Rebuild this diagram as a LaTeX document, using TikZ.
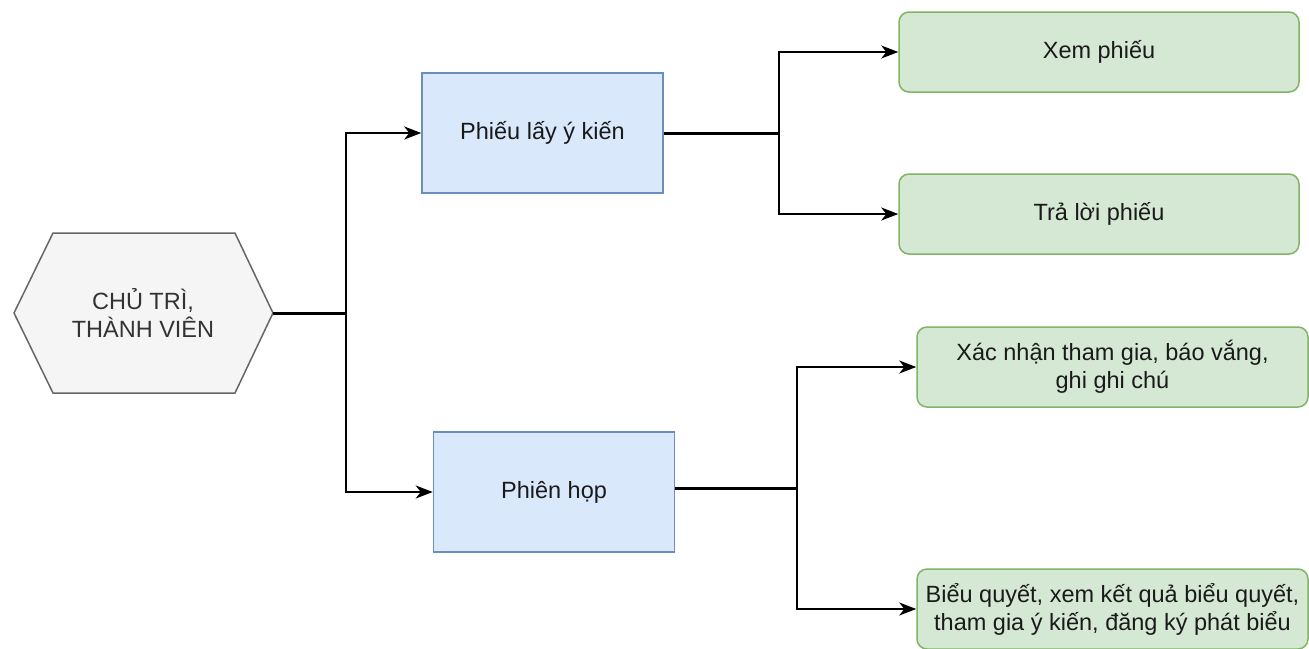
\documentclass[tikz,border=0pt]{standalone}
\usepackage{fontspec}
\setmainfont{Liberation Sans}
\usetikzlibrary{arrows.meta}
\definecolor{gfill}{HTML}{D5E8D4}
\definecolor{gline}{HTML}{82B366}
\definecolor{bfill}{HTML}{DAE8FC}
\definecolor{bline}{HTML}{6C8EBF}
\definecolor{hfill}{HTML}{F5F5F5}
\definecolor{hline}{HTML}{666666}
\definecolor{htext}{HTML}{333333}
\definecolor{ink}{HTML}{1A1A1A}
\begin{document}
\begin{tikzpicture}[x=1pt,y=-1pt,
  every node/.style={font=\fontsize{23.5}{28}\selectfont, text=ink, align=center, inner sep=0pt},
  bluebox/.style={draw=bline, fill=bfill, line width=1.5pt, minimum width=241pt, minimum height=120pt},
  greenbox/.style={draw=gline, fill=gfill, line width=1.5pt, rounded corners=10pt, minimum height=80pt},
  trunk/.style={draw=black, line width=3pt},
  branch/.style={draw=black, line width=2pt, -{Stealth[length=17pt,width=13pt,inset=5pt]}}
]
\useasboundingbox (0,0) rectangle (1309,648);
\fill[white] (0,0) rectangle (1309,648);
% hexagon
\draw[draw=hline, fill=hfill, line width=1.5pt] (14,313) -- (53,233) -- (235,233) -- (273,313) -- (235,393) -- (53,393) -- cycle;
\node[text=htext] (hex) at (143,313) {CHỦ TRÌ,\\THÀNH VIÊN};
\coordinate (hexR) at (273,313);
\coordinate (s1) at (346,313);
% blue boxes
\node[bluebox] (b1) at (542.5,133) {Phiếu lấy ý kiến};
\node[bluebox] (b2) at (554,492) {Phiên họp};
\coordinate (s2) at (779,133);
\coordinate (s3) at (797,488);
% green boxes
\node[greenbox, minimum width=400pt] (g1) at (1099,52) {Xem phiếu};
\node[greenbox, minimum width=400pt] (g2) at (1099,214) {Trả lời phiếu};
\node[greenbox, minimum width=391pt] (g3) at (1112.5,367) {Xác nhận tham gia, báo vắng,\\ghi ghi chú};
\node[greenbox, minimum width=391pt] (g4) at (1112.5,609) {Biểu quyết, xem kết quả biểu quyết,\\tham gia ý kiến, đăng ký phát biểu};
% connectors
\draw[trunk] (hexR) -- (s1);
\draw[branch] (s1) |- (b1.west);
\draw[branch] (s1) |- (b2.west);
\draw[trunk] (b1.east) -- (s2);
\draw[branch] (s2) |- (g1.west);
\draw[branch] (s2) |- (g2.west);
\draw[trunk] (b2.east |- s3) -- (s3);
\draw[branch] (s3) |- (g3.west);
\draw[branch] (s3) |- (g4.west);
\end{tikzpicture}
\end{document}
